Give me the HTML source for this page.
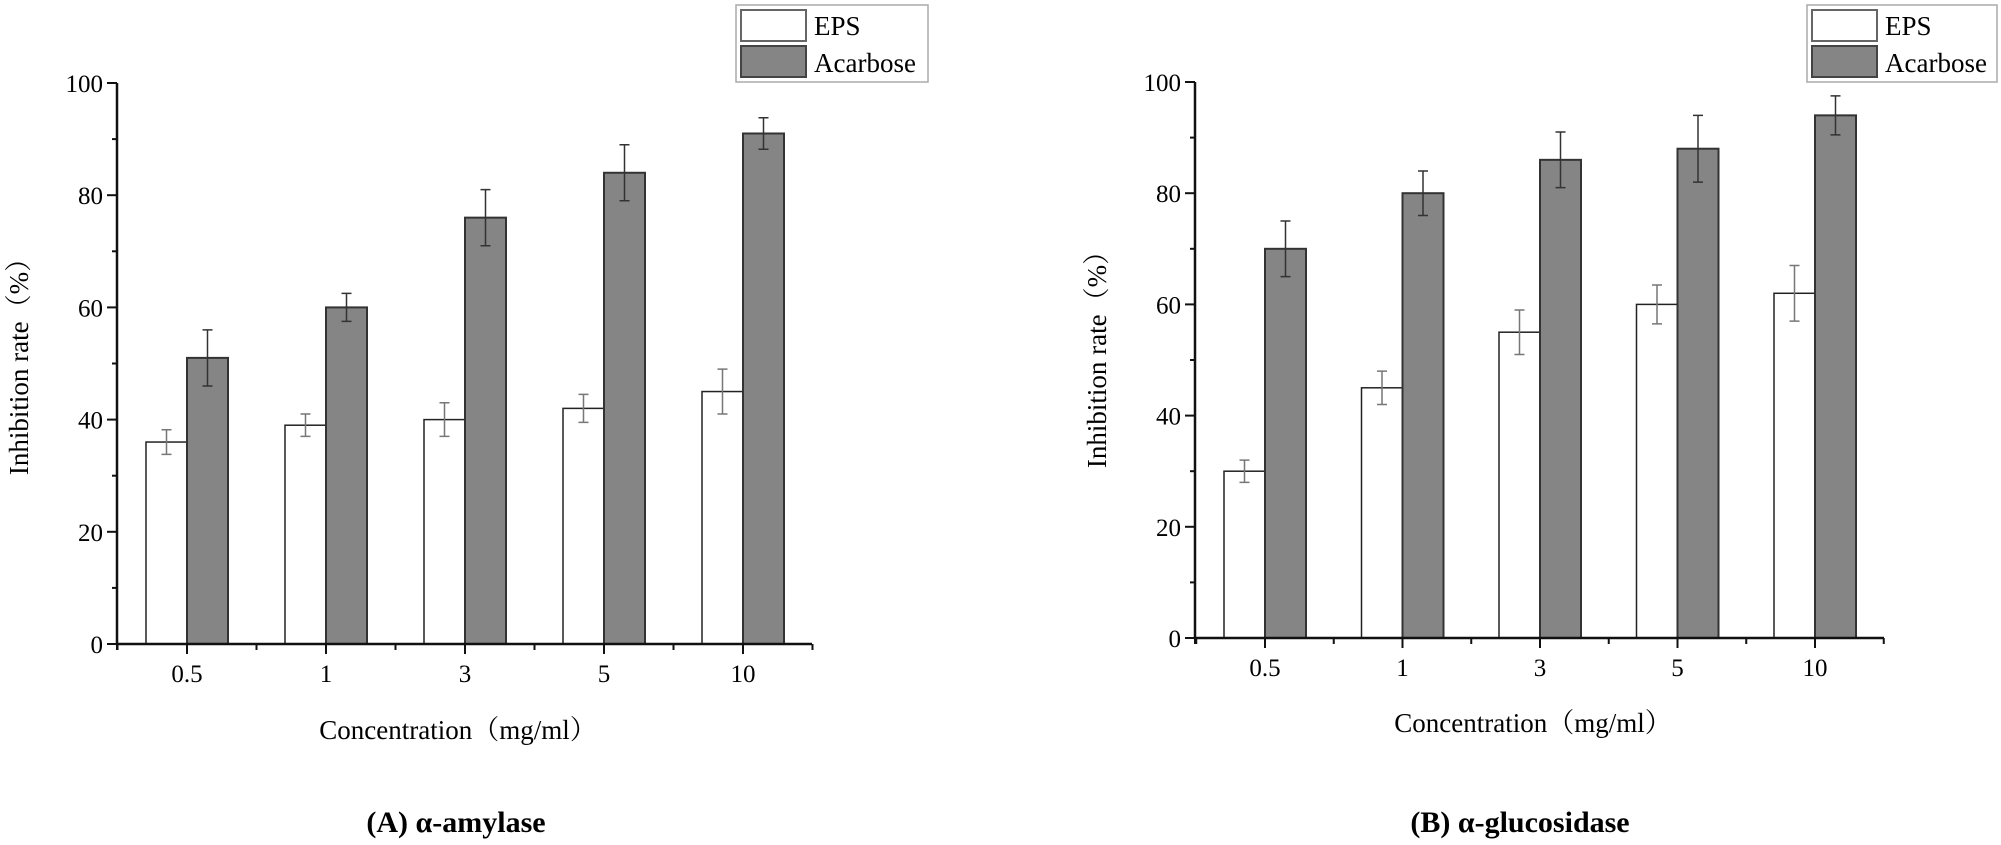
<!DOCTYPE html>
<html><head><meta charset="utf-8"><style>
html,body{margin:0;padding:0;background:#fff;}
svg{display:block;font-family:"Liberation Serif","Noto Serif CJK SC",serif;}
</style></head><body>
<svg id="s" width="2001" height="845" viewBox="0 0 2001 845" xmlns="http://www.w3.org/2000/svg"></svg>
<script>
const s=document.getElementById('s');let h='';
function chart(o){
 const {ax,y0,k,t0,sp,xEnd,eps,ac,epsE,acE,lx,ly,lbx,cap,capx,xlx,xly,capy}=o;
 const Y=v=>y0-v*k, bw=41;
 for(let i=0;i<5;i++){
  const c=t0+i*sp;
  h+=`<rect x="${c-bw}" y="${Y(eps[i])}" width="${bw}" height="${eps[i]*k}" fill="#fff" stroke="#222" stroke-width="1.5"/>`;
  h+=`<rect x="${c}" y="${Y(ac[i])}" width="${bw}" height="${ac[i]*k}" fill="#858585" stroke="#333" stroke-width="2"/>`;
  [[c-bw/2,eps[i],epsE[i],'#777'],[c+bw/2,ac[i],acE[i],'#333']].forEach(([x,v,e,col])=>{
   h+=`<path d="M${x} ${Y(v+e)}V${Y(v-e)}M${x-5} ${Y(v+e)}h10M${x-5} ${Y(v-e)}h10" stroke="${col}" stroke-width="1.5" fill="none"/>`;
  });
 }
 h+=`<path d="M${ax} ${Y(100)}V${y0}H${xEnd}" stroke="#111" stroke-width="2.5" fill="none"/>`;
 for(let v=0;v<=100;v+=10){const maj=v%20==0;h+=`<line x1="${ax-(maj?10:5)}" x2="${ax}" y1="${Y(v)}" y2="${Y(v)}" stroke="#111" stroke-width="2"/>`;
  if(maj)h+=`<text x="${ax-14}" y="${Y(v)+9}" font-size="25" text-anchor="end" transform="" >${v}</text>`;}
 const labs=['0.5','1','3','5','10'];
 for(let i=0;i<=10;i++){const x=ax+(t0-ax)*0+ (i==0?ax:0);}
 // ticks: major at group centers, minor in between and ends
 const half=sp/2;
 for(let x=t0-half*0;false;);
 const tk=[];
 for(let i=-1;i<5;i++){tk.push([t0+i*sp+half,false]);}
 for(let i=0;i<5;i++)tk.push([t0+i*sp,true]);
 tk.push([ax,false]);
 tk.forEach(([x,m])=>{if(x<=xEnd+1)h+=`<line x1="${x}" x2="${x}" y1="${y0}" y2="${y0+(m?10:6)}" stroke="#111" stroke-width="2"/>`;});
 for(let i=0;i<5;i++)h+=`<text x="${t0+i*sp}" y="${o.tly}" font-size="25" text-anchor="middle">${labs[i]}</text>`;
 h+=`<text x="${xlx}" y="${xly}" font-size="27" text-anchor="middle">Concentration（mg/ml）</text>`;
 h+=`<text transform="translate(${o.ylx} ${o.yly}) rotate(-90)" font-size="27" text-anchor="middle">Inhibition rate（%）</text>`;
 h+=`<text x="${capx}" y="${capy}" font-size="30" font-weight="bold" text-anchor="middle">${cap}</text>`;
 // legend
 h+=`<rect x="${lx}" y="5" width="${lbx}" height="77" fill="#fff" stroke="#aaa" stroke-width="1.5"/>`;
 h+=`<rect x="${lx+5}" y="10" width="65" height="31" fill="#fff" stroke="#666" stroke-width="2"/>`;
 h+=`<rect x="${lx+5}" y="46" width="65" height="31" fill="#858585" stroke="#444" stroke-width="2"/>`;
 h+=`<text x="${lx+78}" y="35" font-size="27">EPS</text><text x="${lx+78}" y="72" font-size="27">Acarbose</text>`;
}
chart({ax:117,y0:644,k:5.61,t0:187,sp:139,xEnd:812,eps:[36,39,40,42,45],ac:[51,60,76,84,91],epsE:[2.2,2,3,2.5,4],acE:[5,2.5,5,5,2.8],
 lx:736,lbx:192,tly:682,xlx:458,xly:739,ylx:28,yly:360,cap:'(A) α-amylase',capx:456,capy:832});
chart({ax:1195,y0:638,k:5.56,t0:1265,sp:137.5,xEnd:1884,eps:[30,45,55,60,62],ac:[70,80,86,88,94],epsE:[2,3,4,3.5,5],acE:[5,4,5,6,3.5],
 lx:1807,lbx:190,tly:676,xlx:1533,xly:732,ylx:1106,yly:353,cap:'(B) α-glucosidase',capx:1520,capy:832});
s.innerHTML=h;
</script>
</body></html>
